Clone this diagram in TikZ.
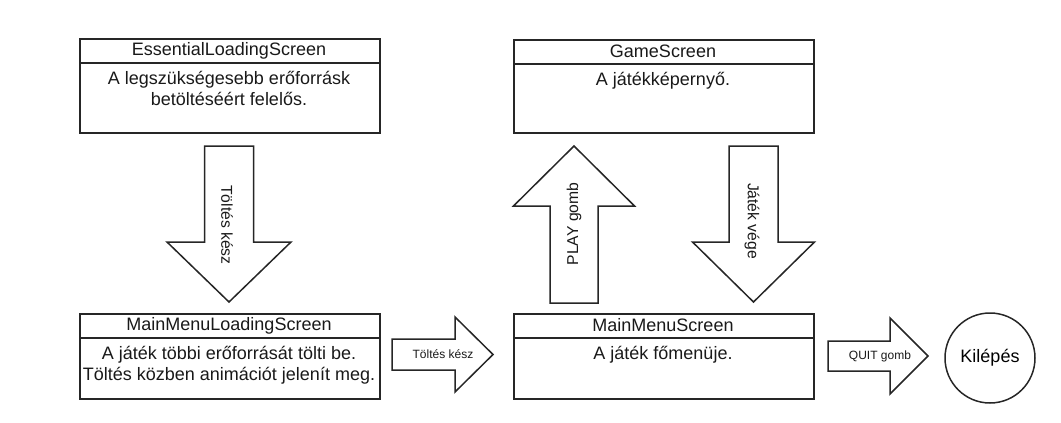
\documentclass[tikz,border=0pt]{standalone}
\usepackage{fontspec}
\setmainfont{Liberation Sans}
\begin{document}
\begin{tikzpicture}[x=1pt,y=-1pt,
  line/.style={draw=black!85,line width=1.5pt},
  screenbox/.style={line,rectangle,inner sep=0pt,anchor=north west},
  headtext/.style={font=\fontsize{18}{21.6}\selectfont,text=black!90,inner sep=0pt},
  bodytext/.style={font=\fontsize{18}{21}\selectfont,text=black!90,inner sep=0pt,align=center,anchor=base},
  fatarrow/.style={line,fill=white,line join=miter},
  vlabel/.style={font=\fontsize{15.7}{18}\selectfont,text=black!90,inner sep=0pt},
  hlabel/.style={font=\fontsize{12}{14}\selectfont,text=black!90,inner sep=0pt},
  exitnode/.style={line,circle,minimum size=90pt,inner sep=0pt,font=\fontsize{18}{21.6}\selectfont}]
\useasboundingbox (0,0) rectangle (1061,423);

% --- screen boxes
\node[screenbox,minimum width=300pt,minimum height=94pt] (els) at (79,38) {};
\draw[line] (79,63) -- (379,63);
\node[headtext] (elsh) at (229,50.5) {EssentialLoadingScreen};
\node[bodytext] (elsb) at (229,105) {A legszükségesebb erőforrásk\\betöltéséért felelős.};

\node[screenbox,minimum width=300pt,minimum height=85pt] (mmls) at (79,313) {};
\draw[line] (79,338) -- (379,338);
\node[headtext] (mmlsh) at (229,325.5) {MainMenuLoadingScreen};
\node[bodytext] (mmlsb) at (229,380) {A játék többi erőforrását tölti be.\\Töltés közben animációt jelenít meg.};

\node[screenbox,minimum width=300pt,minimum height=93pt] (gs) at (513,39) {};
\draw[line] (513,64) -- (813,64);
\node[headtext] (gsh) at (663,51.5) {GameScreen};
\node[bodytext] (gsb) at (663,85) {A játékképernyő.};

\node[screenbox,minimum width=300pt,minimum height=85pt] (mms) at (513,313) {};
\draw[line] (513,338) -- (813,338);
\node[headtext] (mmsh) at (663,325.5) {MainMenuScreen};
\node[bodytext] (mmsb) at (663,359) {A játék főmenüje.};

% --- exit circle
\node[exitnode] (exit) at (990,358) {Kilépés};

% --- block arrows
% ELS -> MMLS (down)
\draw[fatarrow] (204.5,146) -- (253.5,146) -- (253.5,242) -- (291,242) -- (229,302) -- (167,242) -- (204.5,242) -- cycle;
\node[vlabel,rotate=-90] (a1) at (227,225) {Töltés kész};

% MMLS -> MMS (right)
\draw[fatarrow] (392,339) -- (455,339) -- (455,317) -- (493,354.5) -- (455,392) -- (455,370) -- (392,370) -- cycle;
\node[hlabel] (a2) at (443,354.5) {Töltés kész};

% MMS -> GS (up)
\draw[fatarrow] (550,303) -- (598,303) -- (598,206) -- (634.5,206) -- (574,146) -- (513.5,206) -- (550,206) -- cycle;
\node[vlabel,rotate=90] (a3) at (574,224) {PLAY gomb};

% GS -> MMS (down)
\draw[fatarrow] (729,146) -- (778,146) -- (778,242) -- (814.5,242) -- (753.5,302) -- (692.5,242) -- (729,242) -- cycle;
\node[vlabel,rotate=-90] (a4) at (752,221) {Játék vége};

% MMS -> exit (right)
\draw[fatarrow] (828,341) -- (890,341) -- (890,318) -- (928,356) -- (890,394) -- (890,371) -- (828,371) -- cycle;
\node[hlabel] (a5) at (880,356) {QUIT gomb};
\end{tikzpicture}
\end{document}
